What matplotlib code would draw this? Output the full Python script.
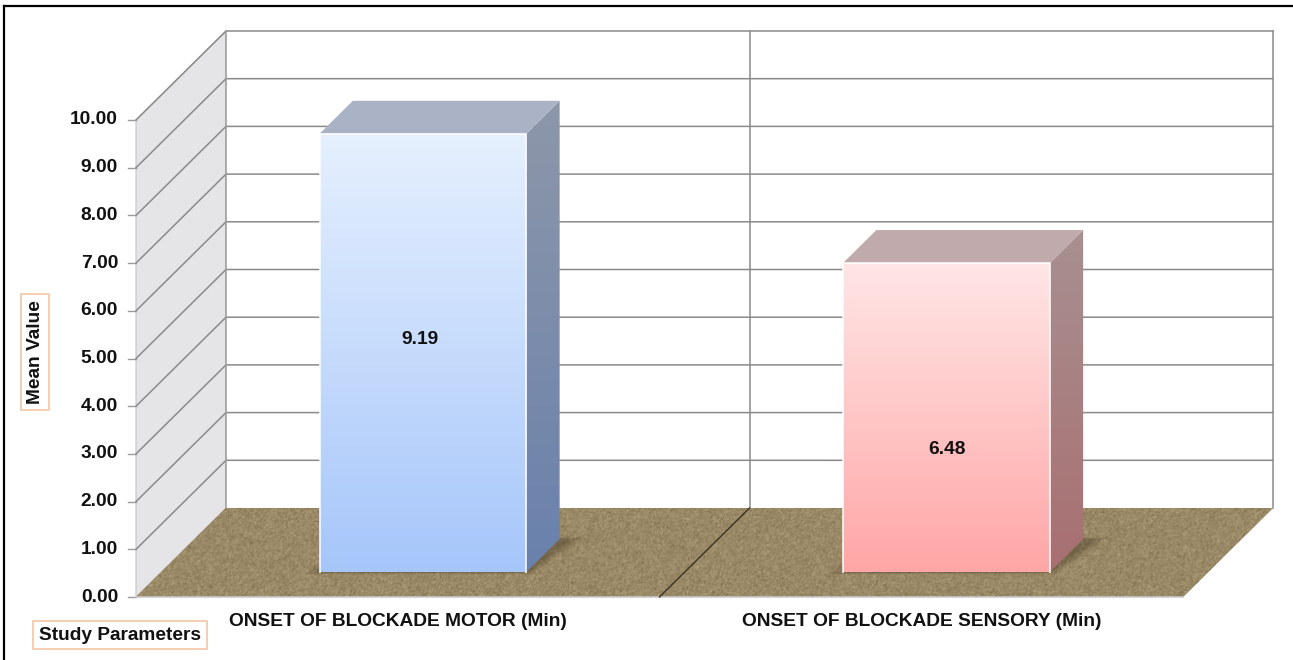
import numpy as np
import matplotlib
matplotlib.use("Agg")
import matplotlib.pyplot as plt
from matplotlib.patches import Polygon

plt.rcParams['font.family'] = ['Liberation Sans', 'DejaVu Sans']

# ---- data ----
categories = ["ONSET OF BLOCKADE MOTOR (Min)", "ONSET OF BLOCKADE SENSORY (Min)"]
values = [9.19, 6.48]
value_labels = ["9.19", "6.48"]
y_ticks = [0, 1, 2, 3, 4, 5, 6, 7, 8, 9, 10]
y_label = "Mean Value"
x_label = "Study Parameters"

# ---- styling ----
front_top = [("#e6f0fe", "#a6c6fa"), ("#ffe6e6", "#ffa6a6")]   # front face gradient (top, bottom)
side_cols = [("#8e97a9", "#6981ad"), ("#a99091", "#a86f71")]   # side face gradient (top, bottom)
top_cols = ["#aab3c5", "#c0aaab"]
label_pos = [(0.5425, 5.39), (1.549, 3.10)]   # value label anchor in front-plane units
FS = 13.8

W, H = 1293, 660
PX_CAT, PX_UNIT = 523.5, 47.7          # pixels per category slot / per value unit
X0_PX, Y0_PX = 136, 597                  # front-left corner of the floor
DX, DY = 90 / PX_CAT, 89 / PX_UNIT       # oblique depth offset (full depth)
BAR_W, Z0, Z1 = 0.395, 0.28, 0.65        # bar width and depth span

fig = plt.figure(figsize=(W / 100, H / 100), dpi=100)
ax = fig.add_axes([0, 0, 1, 1])
ax.set_xlim(-X0_PX / PX_CAT, (W - X0_PX) / PX_CAT)
ax.set_ylim(-(H - Y0_PX) / PX_UNIT, Y0_PX / PX_UNIT)
ax.axis("off")


def P(x, y, z):
    return (x + z * DX, y + z * DY)


def poly(pts, **kw):
    p = Polygon(pts, closed=True, **kw)
    ax.add_patch(p)
    return p


def gradient_poly(pts, c_top, c_bot, z):
    patch = poly(pts, facecolor="none", edgecolor="none", zorder=z)
    xs = [p[0] for p in pts]
    ys = [p[1] for p in pts]
    ct = np.array(matplotlib.colors.to_rgb(c_top))
    cb = np.array(matplotlib.colors.to_rgb(c_bot))
    t = np.linspace(0, 1, 256)[:, None]
    grad = ct * (1 - t) + cb * t          # row 0 = top
    img = np.repeat(grad[:, None, :], 2, axis=1)
    im = ax.imshow(img, extent=[min(xs), max(xs), min(ys), max(ys)],
                   origin="upper", aspect="auto", zorder=z, interpolation="bilinear")
    im.set_clip_path(patch)


ymax = max(y_ticks)
n = len(categories)
grid_c = "#8a8a8a"

# side wall
poly([P(0, 0, 0), P(0, ymax, 0), P(0, ymax, 1), P(0, 0, 1)],
     facecolor="#e5e5e7", edgecolor="#c4c4c4", lw=0.8, zorder=1)
# back wall
poly([P(0, 0, 1), P(n, 0, 1), P(n, ymax, 1), P(0, ymax, 1)],
     facecolor="white", edgecolor="none", zorder=1)

for v in y_ticks[1:]:
    xa, ya = zip(P(0, v, 0), P(0, v, 1), P(n, v, 1))
    ax.plot(xa, ya, color=grid_c, lw=1.1, zorder=2, solid_joinstyle="miter")
for xv in range(n + 1):
    xa, ya = zip(P(xv, 0, 1), P(xv, ymax, 1))
    ax.plot(xa, ya, color=grid_c if xv else "#9a9a9a", lw=1.1, zorder=2)

# floor with sand texture
floor_pts = [P(0, 0, 0), P(n, 0, 0), P(n, 0, 1), P(0, 0, 1)]
floor = poly(floor_pts, facecolor="#988764", edgecolor="none", zorder=3)
rng = np.random.default_rng(7)
tex = rng.normal(0, 1, (90, 1100))
tex = (tex + np.roll(tex, 1, 0) + np.roll(tex, 1, 1)) / 3
base = np.array(matplotlib.colors.to_rgb("#9a8966"))
img = np.clip(base[None, None, :] + tex[:, :, None] * 0.055, 0, 1)
fx = [p[0] for p in floor_pts]
fy = [p[1] for p in floor_pts]
im = ax.imshow(img, extent=[min(fx), max(fx), min(fy), max(fy)], aspect="auto",
               zorder=3, interpolation="bilinear")
im.set_clip_path(floor)
xa, ya = zip(P(0, 0, 0), P(n, 0, 0))
ax.plot(xa, ya, color="#c9c9c9", lw=1.2, zorder=4)
for xv in range(1, n):
    xa, ya = zip(P(xv, 0, 0), P(xv, 0, 1))
    ax.plot(xa, ya, color="#3a3426", lw=1.0, zorder=4)

# bars
for i, v in enumerate(values):
    c = i + 0.5
    l, r = c - BAR_W / 2, c + BAR_W / 2
    # soft shadow on the floor around the base
    for k in np.linspace(0.05, 0.0, 6):
        poly([P(l - k * 0.5, 0, Z0 - k * 0.5), P(r + k * 0.3, 0, Z0 - k * 0.5),
              P(r + k * 0.5 + 0.02, 0, Z1 + k * 0.4), P(l - k * 0.3, 0, Z1 + k * 0.4)],
             facecolor="#2a2010", edgecolor="none", alpha=0.06, zorder=5)
    gradient_poly([P(r, 0, Z0), P(r, 0, Z1), P(r, v, Z1), P(r, v, Z0)],
                  side_cols[i][0], side_cols[i][1], 6)
    poly([P(l, v, Z0), P(r, v, Z0), P(r, v, Z1), P(l, v, Z1)],
         facecolor=top_cols[i], edgecolor="none", zorder=6)
    gradient_poly([P(l, 0, Z0), P(r, 0, Z0), P(r, v, Z0), P(l, v, Z0)],
                  front_top[i][0], front_top[i][1], 7)
    # highlight on the front edges
    xa, ya = zip(P(l, 0, Z0), P(l, v, Z0), P(r, v, Z0), P(r, 0, Z0))
    ax.plot(xa, ya, color="white", lw=1.4, alpha=0.8, zorder=8)
    lx, ly = label_pos[i]
    ax.text(lx, ly, value_labels[i], ha="center", va="center",
            fontsize=FS, fontweight="bold", color="#111111", zorder=9)

# y-axis ticks and labels
tick_len = 8 / PX_CAT
for v in y_ticks:
    ax.plot([-tick_len, 0], [v, v], color="#9a9a9a", lw=1.0, zorder=2)
    ax.text(-18 / PX_CAT, v, f"{v:.2f}", ha="right", va="center",
            fontsize=FS, fontweight="bold", color="#111111")

# category labels
for i, name in enumerate(categories):
    ax.text(i + 0.5, -24 / PX_UNIT, name, ha="center", va="center",
            fontsize=FS, fontweight="bold", color="#111111")

box = dict(boxstyle="square,pad=0.3", facecolor="white", edgecolor="#f4c6a6", lw=1.2)
ax.text(-16 / PX_CAT, -38 / PX_UNIT, x_label, ha="center", va="center",
        fontsize=FS, fontweight="bold", color="#111111", bbox=box)
ax.text(-101 / PX_CAT, 245 / PX_UNIT, y_label, ha="center", va="center", rotation=90,
        fontsize=FS, fontweight="bold", color="#111111", bbox=box)

# frame lines along top and left
fig.add_artist(plt.Line2D([4 / W, 1], [1 - 6 / H, 1 - 6 / H], color="black", lw=1.6,
                          transform=fig.transFigure))
fig.add_artist(plt.Line2D([4 / W, 4 / W], [0, 1 - 6 / H], color="black", lw=1.6,
                          transform=fig.transFigure))

fig.savefig("out.png", dpi=100)
